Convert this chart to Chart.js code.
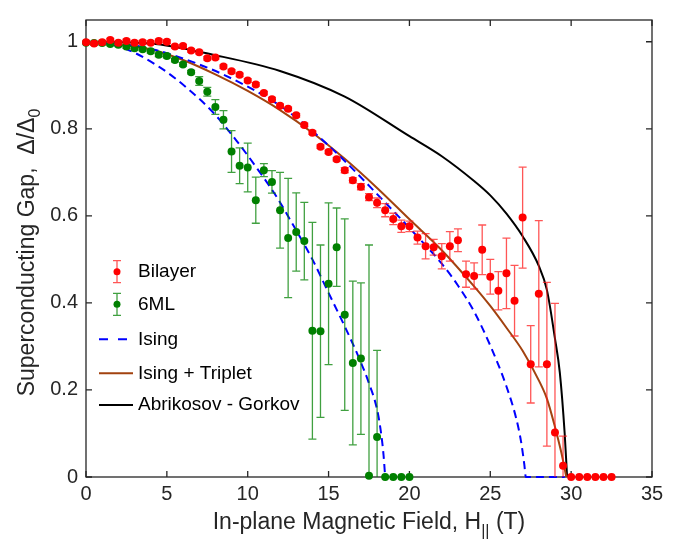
<!DOCTYPE html>
<html>
<head>
<meta charset="utf-8">
<script src="https://cdn.jsdelivr.net/npm/chart.js@4.4.0/dist/chart.umd.min.js"></script>
<style>
html, body { margin: 0; padding: 0; background: #fff; }
</style>
</head>
<body>
<canvas id="c" width="689" height="547"></canvas>
<script>
// values
const bilayerH = [0, 0.5, 1, 1.5, 2, 2.5, 3, 3.5, 4, 4.5, 5, 5.5, 6, 6.5, 7, 7.5, 8, 8.5, 9, 9.5,
  10, 10.5, 11, 11.5, 12, 12.5, 13, 13.5, 14, 14.5, 15, 15.5, 16, 16.5, 17, 17.5, 18, 18.5, 19, 19.5,
  20, 20.5, 21, 21.5, 22, 22.5, 23, 23.5, 24, 24.5, 25, 25.5, 26, 26.5, 27, 27.5, 28, 28.5, 29, 29.5,
  30, 30.5, 31, 31.5, 32, 32.5];
const bilayerGap = [0.999, 0.996, 0.999, 1.004, 0.998, 1.002, 0.998, 0.999, 0.998, 1.002, 1.0, 0.989, 0.99, 0.98, 0.976, 0.962, 0.964, 0.943, 0.932, 0.924,
  0.911, 0.902, 0.882, 0.868, 0.853, 0.846, 0.831, 0.809, 0.791, 0.759, 0.747, 0.730, 0.705, 0.682, 0.667, 0.643, 0.630, 0.613, 0.593, 0.576,
  0.576, 0.550, 0.530, 0.528, 0.507, 0.530, 0.544, 0.466, 0.462, 0.522, 0.460, 0.428, 0.468, 0.405, 0.596, 0.259, 0.421, 0.259, 0.102, 0.026,
  0, 0, 0, 0, 0, 0];
const bilayerErr = [0.004, 0.004, 0.004, 0.004, 0.004, 0.004, 0.004, 0.004, 0.004, 0.004, 0.004, 0.004, 0.004, 0.004, 0.004, 0.004, 0.004, 0.004, 0.004, 0.004,
  0.004, 0.004, 0.004, 0.004, 0.004, 0.004, 0.004, 0.004, 0.004, 0.004, 0.004, 0.004, 0.006, 0.006, 0.007, 0.008, 0.011, 0.015, 0.013, 0.014,
  0.012, 0.015, 0.029, 0.018, 0.029, 0.034, 0.026, 0.030, 0.030, 0.057, 0.040, 0.044, 0.081, 0.081, 0.116, 0.089, 0.168, 0.188, 0.297, 0.068,
  0, 0, 0, 0, 0, 0];

const sixMLH = [0, 0.5, 1, 1.5, 2, 2.5, 3, 3.5, 4, 4.5, 5, 5.5, 6, 6.5, 7, 7.5, 8, 8.5, 9, 9.5,
  10, 10.5, 11, 11.5, 12, 12.5, 13, 13.5, 14, 14.5, 15, 15.5, 16, 16.5, 17, 17.5, 18, 18.5, 19, 19.5, 20];
const sixMLGap = [0.998, 0.997, 0.997, 0.995, 0.993, 0.989, 0.985, 0.983, 0.978, 0.970, 0.967, 0.958, 0.948, 0.930, 0.910, 0.885, 0.850, 0.821, 0.748, 0.715,
  0.711, 0.636, 0.705, 0.678, 0.613, 0.549, 0.563, 0.542, 0.336, 0.335, 0.444, 0.528, 0.373, 0.262, 0.272, 0.003, 0.092, 0, 0, 0, 0];
const sixMLErr = [0.004, 0.004, 0.004, 0.004, 0.004, 0.004, 0.004, 0.004, 0.004, 0.004, 0.004, 0.004, 0.004, 0.004, 0.010, 0.010, 0.017, 0.021, 0.048, 0.041,
  0.056, 0.053, 0.015, 0.026, 0.087, 0.137, 0.090, 0.089, 0.249, 0.198, 0.186, 0.090, 0.220, 0.188, 0.174, 0.530, 0.199, 0, 0, 0, 0];

// fitted curves
const isingBilayerH = [0, 3.5, 7, 10, 12, 14, 16, 18, 20, 22, 23, 24, 25, 26, 26.6, 26.9, 27.1, 27.2, 29.6];
const isingBilayerGap = [1, 0.988, 0.948, 0.897, 0.853, 0.795, 0.726, 0.65, 0.572, 0.49, 0.44, 0.38, 0.302, 0.208, 0.135, 0.082, 0.03, 0, 0];
const isingSixMLH = [0, 2, 4.5, 6.3, 7.9, 9.3, 10.6, 11.8, 12.9, 14, 15, 16, 16.9, 17.5, 18, 18.25, 18.4, 18.5];
const isingSixMLGap = [1, 0.99, 0.943, 0.892, 0.836, 0.773, 0.708, 0.643, 0.573, 0.5, 0.423, 0.346, 0.272, 0.215, 0.155, 0.1, 0.05, 0];
const tripletH = [0, 4, 6, 8, 10, 12, 14, 16, 18, 20, 22, 24, 25, 26, 27, 28, 28.5, 29, 29.4, 29.7];
const tripletGap = [1, 0.983, 0.958, 0.925, 0.887, 0.843, 0.791, 0.731, 0.664, 0.592, 0.521, 0.438, 0.393, 0.343, 0.29, 0.222, 0.18, 0.115, 0.055, 0];
const agH = [0, 4, 8, 12, 16, 20, 22, 24, 25, 26, 27, 28, 28.5, 29, 29.3, 29.6, 29.75];
const agGap = [1, 0.996, 0.969, 0.933, 0.874, 0.783, 0.737, 0.68, 0.647, 0.605, 0.553, 0.485, 0.43, 0.318, 0.24, 0.1, 0];

const xTicks = [0, 5, 10, 15, 20, 25, 30, 35];
const yTicks = [0, 0.2, 0.4, 0.6, 0.8, 1];
const legendLabels = ['Bilayer', '6ML', 'Ising', 'Ising + Triplet', 'Abrikosov - Gorkov'];

const RED = '#ff0000', GREEN = '#008000', BLUE = '#0000ff', BROWN = '#a2420f', AXIS = '#262626';
const FONT = '"Liberation Sans", Arial, Helvetica, sans-serif';

function toPoints(xs, ys) {
  return xs.map((x, i) => ({ x: x, y: ys[i] }));
}

// texte avec indice (ex. Delta_0, H_||)
function drawSubText(ctx, parts, cx, cy) {
  let total = 0;
  parts.forEach(p => { ctx.font = p[1] + 'px ' + FONT; total += ctx.measureText(p[0]).width; });
  let x = cx - total / 2;
  parts.forEach(p => {
    ctx.font = p[1] + 'px ' + FONT;
    ctx.fillText(p[0], x, cy + p[2]);
    x += ctx.measureText(p[0]).width;
  });
}

const decor = {
  id: 'decor',
  beforeDatasetsDraw(chart) {
    const { ctx, chartArea: a, scales: { x, y } } = chart;
    ctx.save();
    ctx.strokeStyle = AXIS;
    ctx.lineWidth = 1.3;
    ctx.strokeRect(a.left, a.top, a.right - a.left, a.bottom - a.top);
    ctx.beginPath();
    xTicks.forEach(v => {
      const px = x.getPixelForValue(v);
      ctx.moveTo(px, a.bottom); ctx.lineTo(px, a.bottom - 6);
      ctx.moveTo(px, a.top); ctx.lineTo(px, a.top + 6);
    });
    yTicks.forEach(v => {
      const py = y.getPixelForValue(v);
      ctx.moveTo(a.left, py); ctx.lineTo(a.left + 6, py);
      ctx.moveTo(a.right, py); ctx.lineTo(a.right - 6, py);
    });
    ctx.stroke();
    ctx.restore();
  },
  beforeDatasetDraw(chart, args) {
    const ds = chart.data.datasets[args.index];
    if (!ds.err) return;
    const { ctx, chartArea: a, scales: { x, y } } = chart;
    ctx.save();
    ctx.beginPath();
    ctx.rect(a.left, a.top, a.right - a.left, a.bottom - a.top);
    ctx.clip();
    ctx.strokeStyle = ds.errColor;
    ctx.lineWidth = 1.3;
    ds.data.forEach((p, i) => {
      const e = ds.err[i];
      if (!e) return;
      const px = x.getPixelForValue(p.x);
      const y1 = y.getPixelForValue(p.y + e);
      const y2 = y.getPixelForValue(p.y - e);
      ctx.beginPath();
      ctx.moveTo(px, y1); ctx.lineTo(px, y2);
      ctx.moveTo(px - 4, y1); ctx.lineTo(px + 4, y1);
      ctx.moveTo(px - 4, y2); ctx.lineTo(px + 4, y2);
      ctx.stroke();
    });
    ctx.restore();
  },
  afterDraw(chart) {
    const ctx = chart.ctx;
    const a = chart.chartArea;
    ctx.save();
    ctx.fillStyle = AXIS;
    ctx.textBaseline = 'alphabetic';
    ctx.textAlign = 'left';
    // titre x
    drawSubText(ctx, [['In-plane Magnetic Field, H', 23, 0], ['||', 16, 7], [' (T)', 23, 0]], (a.left + a.right) / 2, 529);
    // titre y
    ctx.save();
    ctx.translate(34, (a.top + a.bottom) / 2 + 4);
    ctx.rotate(-Math.PI / 2);
    drawSubText(ctx, [['Superconducting Gap,  \u0394/\u0394', 23, 0], ['0', 16, 6]], 0, 0);
    ctx.restore();

    // légende
    const rows = [271.7, 304.3, 339.3, 373.3, 405];
    ctx.font = '19px ' + FONT;
    ctx.fillStyle = '#000';
    ctx.textBaseline = 'middle';
    legendLabels.forEach((lab, i) => ctx.fillText(lab, 138, rows[i]));

    [[RED, 'rgba(255,30,30,0.75)'], [GREEN, 'rgba(0,128,0,0.75)']].forEach((c, i) => {
      const cy = rows[i];
      ctx.strokeStyle = c[1];
      ctx.lineWidth = 1.3;
      ctx.beginPath();
      ctx.moveTo(117, cy - 11); ctx.lineTo(117, cy + 11);
      ctx.moveTo(113, cy - 11); ctx.lineTo(121, cy - 11);
      ctx.moveTo(113, cy + 11); ctx.lineTo(121, cy + 11);
      ctx.stroke();
      ctx.fillStyle = c[0];
      ctx.beginPath();
      ctx.arc(117, cy, 3.5, 0, Math.PI * 2);
      ctx.fill();
    });
    ctx.lineWidth = 2;
    ctx.strokeStyle = BLUE;
    ctx.setLineDash([9, 10]);
    ctx.beginPath(); ctx.moveTo(99, rows[2]); ctx.lineTo(128, rows[2]); ctx.stroke();
    ctx.setLineDash([]);
    ctx.strokeStyle = BROWN;
    ctx.beginPath(); ctx.moveTo(99, rows[3]); ctx.lineTo(133, rows[3]); ctx.stroke();
    ctx.strokeStyle = '#000';
    ctx.beginPath(); ctx.moveTo(99, rows[4]); ctx.lineTo(133, rows[4]); ctx.stroke();
    ctx.restore();
  }
};

function curve(label, xs, ys, color, dash) {
  return {
    label: label,
    data: toPoints(xs, ys),
    showLine: true,
    pointRadius: 0,
    borderColor: color,
    borderWidth: 2,
    borderDash: dash,
    cubicInterpolationMode: 'monotone',
    clip: false,
    order: 2
  };
}

const ctx = document.getElementById('c').getContext('2d');
new Chart(ctx, {
  type: 'scatter',
  data: {
    datasets: [
      { label: 'Bilayer', data: toPoints(bilayerH, bilayerGap), err: bilayerErr, errColor: 'rgba(255,30,30,0.75)',
        backgroundColor: RED, borderColor: RED, borderWidth: 0, pointRadius: 4, clip: false, order: 0 },
      { label: '6ML', data: toPoints(sixMLH, sixMLGap), err: sixMLErr, errColor: 'rgba(0,128,0,0.75)',
        backgroundColor: GREEN, borderColor: GREEN, borderWidth: 0, pointRadius: 4, clip: false, order: 1 },
      curve('Ising', isingBilayerH, isingBilayerGap, BLUE, [8, 5]),
      curve('Ising (6ML)', isingSixMLH, isingSixMLGap, BLUE, [8, 5]),
      curve('Ising + Triplet', tripletH, tripletGap, BROWN, []),
      curve('Abrikosov - Gorkov', agH, agGap, '#000', [])
    ]
  },
  options: {
    responsive: false,
    devicePixelRatio: 1,
    animation: false,
    events: [],
    layout: { padding: { top: 4, right: 37, left: 0, bottom: 0 } },
    plugins: { legend: { display: false }, tooltip: { enabled: false } },
    scales: {
      x: {
        type: 'linear', min: 0, max: 35,
        grid: { display: false, drawTicks: false }, border: { display: false },
        afterBuildTicks: s => { s.ticks = xTicks.map(v => ({ value: v })); },
        afterFit: s => { s.height = 70; },
        ticks: { color: AXIS, font: { size: 20, family: FONT }, padding: 5, maxRotation: 0 }
      },
      y: {
        type: 'linear', min: 0, max: 1.05,
        grid: { display: false, drawTicks: false }, border: { display: false },
        afterBuildTicks: s => { s.ticks = yTicks.map(v => ({ value: v })); },
        afterFit: s => { s.width = 86; },
        ticks: { color: AXIS, font: { size: 20, family: FONT }, padding: 8,
          callback: v => String(+v.toFixed(2)) }
      }
    }
  },
  plugins: [decor]
});
</script>
</body>
</html>
